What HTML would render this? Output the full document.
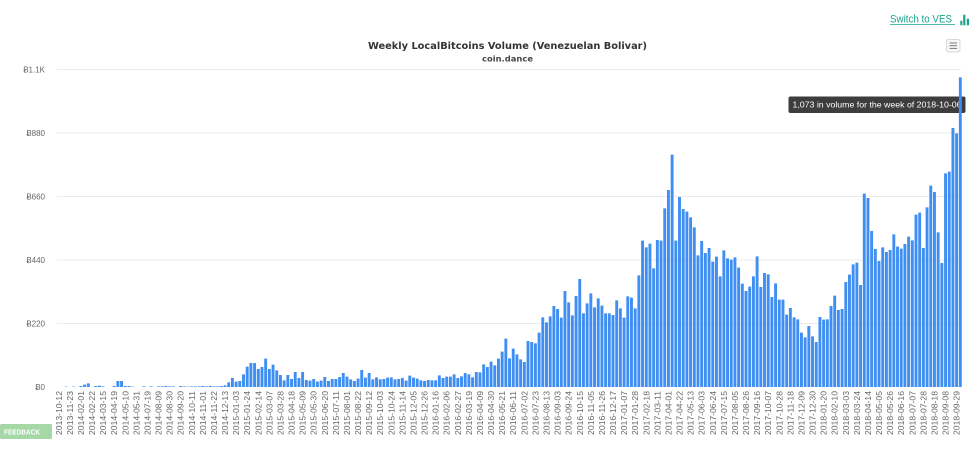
<!DOCTYPE html>
<html><head><meta charset="utf-8"><style>
html,body{margin:0;padding:0;background:#fff;}
svg{display:block;}
text{font-family:"Liberation Sans","DejaVu Sans",sans-serif;}
</style></head><body>
<svg width="980" height="451" viewBox="0 0 980 451" xmlns="http://www.w3.org/2000/svg">
<rect width="980" height="451" fill="#fff"/>
<!-- switch link -->
<text x="890" y="22.5" font-size="11" fill="#1ba38c" textLength="62" lengthAdjust="spacingAndGlyphs">Switch to VES</text>
<line x1="890" y1="24.5" x2="955" y2="24.5" stroke="#1ba38c" stroke-width="0.8"/>
<rect x="960.3" y="20.7" width="2" height="4.6" fill="#1ba38c"/>
<rect x="963.2" y="14.7" width="2.2" height="10.6" fill="#1ba38c"/>
<rect x="966.8" y="18.7" width="2.2" height="6.6" fill="#1ba38c"/>
<!-- menu button -->
<rect x="946.5" y="39.5" width="13.5" height="12.5" rx="2" fill="#f7f7f7" stroke="#d8d8d8" stroke-width="1"/>
<line x1="949.5" y1="43" x2="957" y2="43" stroke="#777" stroke-width="1"/>
<line x1="949.5" y1="45.7" x2="957" y2="45.7" stroke="#777" stroke-width="1"/>
<line x1="949.5" y1="48.4" x2="957" y2="48.4" stroke="#777" stroke-width="1"/>
<!-- titles -->
<text x="507.5" y="49" font-size="10" font-weight="bold" fill="#333" text-anchor="middle" textLength="279" lengthAdjust="spacingAndGlyphs" style="font-family:'DejaVu Sans','Liberation Sans',sans-serif">Weekly LocalBitcoins Volume (Venezuelan Bolivar)</text>
<text x="507.5" y="61.5" font-size="8" font-weight="bold" fill="#444" text-anchor="middle" textLength="51" lengthAdjust="spacingAndGlyphs" style="font-family:'DejaVu Sans','Liberation Sans',sans-serif">coin.dance</text>
<!-- gridlines -->
<g stroke="#ebebeb" stroke-width="1">
<line x1="57" y1="69.5" x2="961" y2="69.5"/>
<line x1="57" y1="133" x2="961" y2="133"/>
<line x1="57" y1="196.5" x2="961" y2="196.5"/>
<line x1="57" y1="260" x2="961" y2="260"/>
<line x1="57" y1="323.5" x2="961" y2="323.5"/>
</g>
<!-- y labels -->
<g font-size="8" fill="#666" text-anchor="end">
<text x="45" y="72.5">Ƀ1.1K</text>
<text x="45" y="136">Ƀ880</text>
<text x="45" y="199.5">Ƀ660</text>
<text x="45" y="263">Ƀ440</text>
<text x="45" y="326.5">Ƀ220</text>
<text x="45" y="390">Ƀ0</text>
</g>
<!-- tooltip -->
<rect x="788.5" y="96.5" width="177" height="16.5" rx="2" fill="#222" fill-opacity="0.88"/>
<text x="792.5" y="107.5" font-size="8" fill="#fff" textLength="169" lengthAdjust="spacingAndGlyphs">1,073 in volume for the week of 2018-10-06</text>
<!-- bars -->
<g transform="translate(57.3,387) scale(3.695,-0.33333)">
<path fill="#3f8ef2" d="M2 0v1h.785V0zM4 0v1h.785V0zM6 0v3h.785V0zM7 0v7h.785V0zM8 0v11h.785V0zM10 0v3h.785V0zM11 0v4h.785V0zM12 0v2h.785V0zM15 0v3h.785V0zM16 0v18h.785V0zM17 0v18h.785V0zM18 0v3h.785V0zM19 0v3h.785V0zM20 0v1h.785V0zM23 0v2h.785V0zM25 0v2h.785V0zM27 0v2h.785V0zM28 0v2h.785V0zM29 0v3h.785V0zM30 0v2h.785V0zM31 0v2h.785V0zM33 0v3h.785V0zM34 0v2h.785V0zM35 0v1h.785V0zM36 0v2h.785V0zM37 0v2h.785V0zM38 0v2h.785V0zM39 0v3h.785V0zM40 0v2h.785V0zM41 0v3h.785V0zM42 0v2h.785V0zM43 0v2h.785V0zM44 0v3h.785V0zM45 0v5h.785V0zM46 0v14h.785V0zM47 0v27h.785V0zM48 0v16h.785V0zM49 0v18h.785V0zM50 0v38h.785V0zM51 0v61h.785V0zM52 0v72h.785V0zM53 0v72h.785V0zM54 0v54h.785V0zM55 0v60h.785V0zM56 0v85h.785V0zM57 0v54h.785V0zM58 0v67h.785V0zM59 0v50h.785V0zM60 0v36h.785V0zM61 0v20h.785V0zM62 0v36h.785V0zM63 0v24h.785V0zM64 0v45h.785V0zM65 0v27h.785V0zM66 0v45h.785V0zM67 0v21h.785V0zM68 0v19h.785V0zM69 0v24h.785V0zM70 0v16h.785V0zM71 0v19h.785V0zM72 0v30h.785V0zM73 0v18h.785V0zM74 0v24h.785V0zM75 0v24h.785V0zM76 0v30h.785V0zM77 0v42h.785V0zM78 0v31h.785V0zM79 0v23h.785V0zM80 0v18h.785V0zM81 0v25h.785V0zM82 0v51h.785V0zM83 0v28h.785V0zM84 0v42h.785V0zM85 0v23h.785V0zM86 0v29h.785V0zM87 0v23h.785V0zM88 0v24h.785V0zM89 0v28h.785V0zM90 0v29h.785V0zM91 0v23h.785V0zM92 0v24h.785V0zM93 0v27h.785V0zM94 0v19h.785V0zM95 0v34h.785V0zM96 0v28h.785V0zM97 0v25h.785V0zM98 0v20h.785V0zM99 0v18h.785V0zM100 0v21h.785V0zM101 0v20h.785V0zM102 0v20h.785V0zM103 0v35h.785V0zM104 0v27h.785V0zM105 0v31h.785V0zM106 0v31h.785V0zM107 0v38h.785V0zM108 0v27h.785V0zM109 0v32h.785V0zM110 0v42h.785V0zM111 0v38h.785V0zM112 0v29h.785V0zM113 0v45h.785V0zM114 0v44h.785V0zM115 0v68h.785V0zM116 0v60h.785V0zM117 0v76h.785V0zM118 0v65h.785V0zM119 0v85h.785V0zM120 0v106h.785V0zM121 0v145h.785V0zM122 0v86h.785V0zM123 0v115h.785V0zM124 0v98h.785V0zM125 0v83h.785V0zM126 0v75h.785V0zM127 0v138h.785V0zM128 0v135h.785V0zM129 0v131h.785V0zM130 0v163h.785V0zM131 0v209h.785V0zM132 0v194h.785V0zM133 0v212h.785V0zM134 0v243h.785V0zM135 0v234h.785V0zM136 0v208h.785V0zM137 0v288h.785V0zM138 0v254h.785V0zM139 0v215h.785V0zM140 0v273h.785V0zM141 0v324h.785V0zM142 0v221h.785V0zM143 0v251h.785V0zM144 0v281h.785V0zM145 0v239h.785V0zM146 0v266h.785V0zM147 0v244h.785V0zM148 0v221h.785V0zM149 0v221h.785V0zM150 0v216h.785V0zM151 0v260h.785V0zM152 0v236h.785V0zM153 0v208h.785V0zM154 0v272h.785V0zM155 0v268h.785V0zM156 0v236h.785V0zM157 0v335h.785V0zM158 0v439h.785V0zM159 0v419h.785V0zM160 0v430h.785V0zM161 0v356h.785V0zM162 0v441h.785V0zM163 0v439h.785V0zM164 0v536h.785V0zM165 0v591h.785V0zM166 0v697h.785V0zM167 0v439h.785V0zM168 0v570h.785V0zM169 0v534h.785V0zM170 0v526h.785V0zM171 0v509h.785V0zM172 0v479h.785V0zM173 0v395h.785V0zM174 0v438h.785V0zM175 0v402h.785V0zM176 0v417h.785V0zM177 0v376h.785V0zM178 0v391h.785V0zM179 0v332h.785V0zM180 0v410h.785V0zM181 0v386h.785V0zM182 0v382h.785V0zM183 0v389h.785V0zM184 0v358h.785V0zM185 0v310h.785V0zM186 0v288h.785V0zM187 0v301h.785V0zM188 0v332h.785V0zM189 0v392h.785V0zM190 0v300h.785V0zM191 0v342h.785V0zM192 0v338h.785V0zM193 0v270h.785V0zM194 0v311h.785V0zM195 0v262h.785V0zM196 0v262h.785V0zM197 0v217h.785V0zM198 0v237h.785V0zM199 0v209h.785V0zM200 0v203h.785V0zM201 0v163h.785V0zM202 0v149h.785V0zM203 0v183h.785V0zM204 0v152h.785V0zM205 0v135h.785V0zM206 0v210h.785V0zM207 0v202h.785V0zM208 0v203h.785V0zM209 0v243h.785V0zM210 0v274h.785V0zM211 0v231h.785V0zM212 0v234h.785V0zM213 0v315h.785V0zM214 0v337h.785V0zM215 0v368h.785V0zM216 0v373h.785V0zM217 0v306h.785V0zM218 0v580h.785V0zM219 0v567h.785V0zM220 0v468h.785V0zM221 0v414h.785V0zM222 0v378h.785V0zM223 0v419h.785V0zM224 0v405h.785V0zM225 0v411h.785V0zM226 0v458h.785V0zM227 0v421h.785V0zM228 0v415h.785V0zM229 0v429h.785V0zM230 0v451h.785V0zM231 0v440h.785V0zM232 0v517h.785V0zM233 0v523h.785V0zM234 0v417h.785V0zM235 0v539h.785V0zM236 0v604h.785V0zM237 0v585h.785V0zM238 0v464h.785V0zM239 0v372h.785V0zM240 0v641h.785V0zM241 0v646h.785V0zM242 0v777h.785V0zM243 0v761h.785V0zM244 0v929h.785V0z"/>
</g>
<!-- x labels -->
<g font-size="8.5" fill="#666" text-anchor="end">
<text transform="translate(61.75,391) rotate(-90)" textLength="44" lengthAdjust="spacingAndGlyphs">2013-10-12</text>
<text transform="translate(72.84,391) rotate(-90)" textLength="44" lengthAdjust="spacingAndGlyphs">2013-11-23</text>
<text transform="translate(83.92,391) rotate(-90)" textLength="44" lengthAdjust="spacingAndGlyphs">2014-02-01</text>
<text transform="translate(95.01,391) rotate(-90)" textLength="44" lengthAdjust="spacingAndGlyphs">2014-02-22</text>
<text transform="translate(106.09,391) rotate(-90)" textLength="44" lengthAdjust="spacingAndGlyphs">2014-03-15</text>
<text transform="translate(117.18,391) rotate(-90)" textLength="44" lengthAdjust="spacingAndGlyphs">2014-04-19</text>
<text transform="translate(128.26,391) rotate(-90)" textLength="44" lengthAdjust="spacingAndGlyphs">2014-05-10</text>
<text transform="translate(139.35,391) rotate(-90)" textLength="44" lengthAdjust="spacingAndGlyphs">2014-05-31</text>
<text transform="translate(150.43,391) rotate(-90)" textLength="44" lengthAdjust="spacingAndGlyphs">2014-07-19</text>
<text transform="translate(161.52,391) rotate(-90)" textLength="44" lengthAdjust="spacingAndGlyphs">2014-08-09</text>
<text transform="translate(172.60,391) rotate(-90)" textLength="44" lengthAdjust="spacingAndGlyphs">2014-08-30</text>
<text transform="translate(183.69,391) rotate(-90)" textLength="44" lengthAdjust="spacingAndGlyphs">2014-09-20</text>
<text transform="translate(194.77,391) rotate(-90)" textLength="44" lengthAdjust="spacingAndGlyphs">2014-10-11</text>
<text transform="translate(205.86,391) rotate(-90)" textLength="44" lengthAdjust="spacingAndGlyphs">2014-11-01</text>
<text transform="translate(216.94,391) rotate(-90)" textLength="44" lengthAdjust="spacingAndGlyphs">2014-11-22</text>
<text transform="translate(228.03,391) rotate(-90)" textLength="44" lengthAdjust="spacingAndGlyphs">2014-12-13</text>
<text transform="translate(239.11,391) rotate(-90)" textLength="44" lengthAdjust="spacingAndGlyphs">2015-01-03</text>
<text transform="translate(250.20,391) rotate(-90)" textLength="44" lengthAdjust="spacingAndGlyphs">2015-01-24</text>
<text transform="translate(261.28,391) rotate(-90)" textLength="44" lengthAdjust="spacingAndGlyphs">2015-02-14</text>
<text transform="translate(272.37,391) rotate(-90)" textLength="44" lengthAdjust="spacingAndGlyphs">2015-03-07</text>
<text transform="translate(283.45,391) rotate(-90)" textLength="44" lengthAdjust="spacingAndGlyphs">2015-03-28</text>
<text transform="translate(294.54,391) rotate(-90)" textLength="44" lengthAdjust="spacingAndGlyphs">2015-04-18</text>
<text transform="translate(305.62,391) rotate(-90)" textLength="44" lengthAdjust="spacingAndGlyphs">2015-05-09</text>
<text transform="translate(316.71,391) rotate(-90)" textLength="44" lengthAdjust="spacingAndGlyphs">2015-05-30</text>
<text transform="translate(327.79,391) rotate(-90)" textLength="44" lengthAdjust="spacingAndGlyphs">2015-06-20</text>
<text transform="translate(338.88,391) rotate(-90)" textLength="44" lengthAdjust="spacingAndGlyphs">2015-07-11</text>
<text transform="translate(349.96,391) rotate(-90)" textLength="44" lengthAdjust="spacingAndGlyphs">2015-08-01</text>
<text transform="translate(361.05,391) rotate(-90)" textLength="44" lengthAdjust="spacingAndGlyphs">2015-08-22</text>
<text transform="translate(372.13,391) rotate(-90)" textLength="44" lengthAdjust="spacingAndGlyphs">2015-09-12</text>
<text transform="translate(383.22,391) rotate(-90)" textLength="44" lengthAdjust="spacingAndGlyphs">2015-10-03</text>
<text transform="translate(394.30,391) rotate(-90)" textLength="44" lengthAdjust="spacingAndGlyphs">2015-10-24</text>
<text transform="translate(405.39,391) rotate(-90)" textLength="44" lengthAdjust="spacingAndGlyphs">2015-11-14</text>
<text transform="translate(416.47,391) rotate(-90)" textLength="44" lengthAdjust="spacingAndGlyphs">2015-12-05</text>
<text transform="translate(427.56,391) rotate(-90)" textLength="44" lengthAdjust="spacingAndGlyphs">2015-12-26</text>
<text transform="translate(438.64,391) rotate(-90)" textLength="44" lengthAdjust="spacingAndGlyphs">2016-01-16</text>
<text transform="translate(449.73,391) rotate(-90)" textLength="44" lengthAdjust="spacingAndGlyphs">2016-02-06</text>
<text transform="translate(460.81,391) rotate(-90)" textLength="44" lengthAdjust="spacingAndGlyphs">2016-02-27</text>
<text transform="translate(471.90,391) rotate(-90)" textLength="44" lengthAdjust="spacingAndGlyphs">2016-03-19</text>
<text transform="translate(482.98,391) rotate(-90)" textLength="44" lengthAdjust="spacingAndGlyphs">2016-04-09</text>
<text transform="translate(494.07,391) rotate(-90)" textLength="44" lengthAdjust="spacingAndGlyphs">2016-04-30</text>
<text transform="translate(505.15,391) rotate(-90)" textLength="44" lengthAdjust="spacingAndGlyphs">2016-05-21</text>
<text transform="translate(516.24,391) rotate(-90)" textLength="44" lengthAdjust="spacingAndGlyphs">2016-06-11</text>
<text transform="translate(527.32,391) rotate(-90)" textLength="44" lengthAdjust="spacingAndGlyphs">2016-07-02</text>
<text transform="translate(538.41,391) rotate(-90)" textLength="44" lengthAdjust="spacingAndGlyphs">2016-07-23</text>
<text transform="translate(549.49,391) rotate(-90)" textLength="44" lengthAdjust="spacingAndGlyphs">2016-08-13</text>
<text transform="translate(560.58,391) rotate(-90)" textLength="44" lengthAdjust="spacingAndGlyphs">2016-09-03</text>
<text transform="translate(571.66,391) rotate(-90)" textLength="44" lengthAdjust="spacingAndGlyphs">2016-09-24</text>
<text transform="translate(582.75,391) rotate(-90)" textLength="44" lengthAdjust="spacingAndGlyphs">2016-10-15</text>
<text transform="translate(593.83,391) rotate(-90)" textLength="44" lengthAdjust="spacingAndGlyphs">2016-11-05</text>
<text transform="translate(604.92,391) rotate(-90)" textLength="44" lengthAdjust="spacingAndGlyphs">2016-11-26</text>
<text transform="translate(616.00,391) rotate(-90)" textLength="44" lengthAdjust="spacingAndGlyphs">2016-12-17</text>
<text transform="translate(627.09,391) rotate(-90)" textLength="44" lengthAdjust="spacingAndGlyphs">2017-01-07</text>
<text transform="translate(638.17,391) rotate(-90)" textLength="44" lengthAdjust="spacingAndGlyphs">2017-01-28</text>
<text transform="translate(649.26,391) rotate(-90)" textLength="44" lengthAdjust="spacingAndGlyphs">2017-02-18</text>
<text transform="translate(660.34,391) rotate(-90)" textLength="44" lengthAdjust="spacingAndGlyphs">2017-03-11</text>
<text transform="translate(671.43,391) rotate(-90)" textLength="44" lengthAdjust="spacingAndGlyphs">2017-04-01</text>
<text transform="translate(682.51,391) rotate(-90)" textLength="44" lengthAdjust="spacingAndGlyphs">2017-04-22</text>
<text transform="translate(693.60,391) rotate(-90)" textLength="44" lengthAdjust="spacingAndGlyphs">2017-05-13</text>
<text transform="translate(704.68,391) rotate(-90)" textLength="44" lengthAdjust="spacingAndGlyphs">2017-06-03</text>
<text transform="translate(715.77,391) rotate(-90)" textLength="44" lengthAdjust="spacingAndGlyphs">2017-06-24</text>
<text transform="translate(726.85,391) rotate(-90)" textLength="44" lengthAdjust="spacingAndGlyphs">2017-07-15</text>
<text transform="translate(737.94,391) rotate(-90)" textLength="44" lengthAdjust="spacingAndGlyphs">2017-08-05</text>
<text transform="translate(749.02,391) rotate(-90)" textLength="44" lengthAdjust="spacingAndGlyphs">2017-08-26</text>
<text transform="translate(760.11,391) rotate(-90)" textLength="44" lengthAdjust="spacingAndGlyphs">2017-09-16</text>
<text transform="translate(771.19,391) rotate(-90)" textLength="44" lengthAdjust="spacingAndGlyphs">2017-10-07</text>
<text transform="translate(782.28,391) rotate(-90)" textLength="44" lengthAdjust="spacingAndGlyphs">2017-10-28</text>
<text transform="translate(793.36,391) rotate(-90)" textLength="44" lengthAdjust="spacingAndGlyphs">2017-11-18</text>
<text transform="translate(804.45,391) rotate(-90)" textLength="44" lengthAdjust="spacingAndGlyphs">2017-12-09</text>
<text transform="translate(815.53,391) rotate(-90)" textLength="44" lengthAdjust="spacingAndGlyphs">2017-12-30</text>
<text transform="translate(826.62,391) rotate(-90)" textLength="44" lengthAdjust="spacingAndGlyphs">2018-01-20</text>
<text transform="translate(837.70,391) rotate(-90)" textLength="44" lengthAdjust="spacingAndGlyphs">2018-02-10</text>
<text transform="translate(848.79,391) rotate(-90)" textLength="44" lengthAdjust="spacingAndGlyphs">2018-03-03</text>
<text transform="translate(859.87,391) rotate(-90)" textLength="44" lengthAdjust="spacingAndGlyphs">2018-03-24</text>
<text transform="translate(870.96,391) rotate(-90)" textLength="44" lengthAdjust="spacingAndGlyphs">2018-04-14</text>
<text transform="translate(882.04,391) rotate(-90)" textLength="44" lengthAdjust="spacingAndGlyphs">2018-05-05</text>
<text transform="translate(893.13,391) rotate(-90)" textLength="44" lengthAdjust="spacingAndGlyphs">2018-05-26</text>
<text transform="translate(904.21,391) rotate(-90)" textLength="44" lengthAdjust="spacingAndGlyphs">2018-06-16</text>
<text transform="translate(915.30,391) rotate(-90)" textLength="44" lengthAdjust="spacingAndGlyphs">2018-07-07</text>
<text transform="translate(926.38,391) rotate(-90)" textLength="44" lengthAdjust="spacingAndGlyphs">2018-07-28</text>
<text transform="translate(937.47,391) rotate(-90)" textLength="44" lengthAdjust="spacingAndGlyphs">2018-08-18</text>
<text transform="translate(948.55,391) rotate(-90)" textLength="44" lengthAdjust="spacingAndGlyphs">2018-09-08</text>
<text transform="translate(959.64,391) rotate(-90)" textLength="44" lengthAdjust="spacingAndGlyphs">2018-09-29</text>
</g>
<!-- feedback -->
<rect x="0" y="424" width="52" height="15" rx="1.5" fill="#a5d7a7"/>
<text x="4" y="434.3" font-size="7" font-weight="bold" fill="#fff" textLength="36" lengthAdjust="spacingAndGlyphs">FEEDBACK</text>
</svg>
</body></html>
